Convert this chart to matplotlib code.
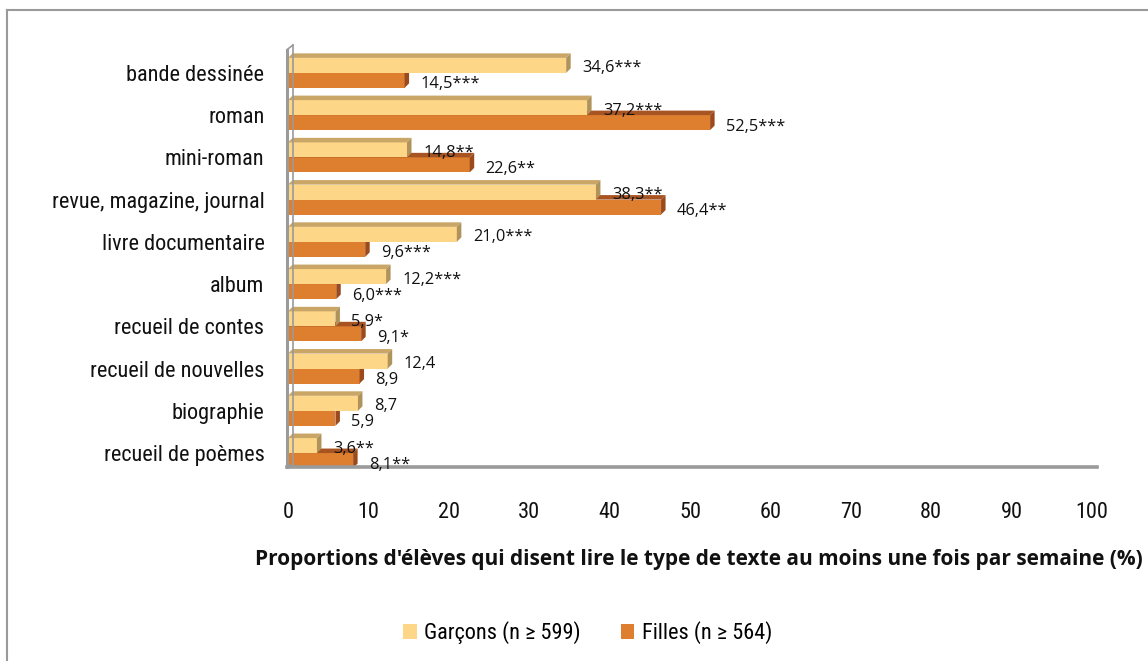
import matplotlib
matplotlib.use("Agg")
import matplotlib.pyplot as plt
from matplotlib import font_manager
from matplotlib.patches import Polygon, Patch
from matplotlib.lines import Line2D
import numpy as np

# ── Données ──────────────────────────────────────────────────────────────────

categories = ["bande dessinée", "roman", "mini-roman", "revue, magazine, journal",
              "livre documentaire", "album", "recueil de contes",
              "recueil de nouvelles", "biographie", "recueil de poèmes"]
garcons = [34.6, 37.2, 14.8, 38.3, 21.0, 12.2, 5.9, 12.4, 8.7, 3.6]
filles = [14.5, 52.5, 22.6, 46.4, 9.6, 6.0, 9.1, 8.9, 5.9, 8.1]
sig_garcons = ["***", "***", "**", "**", "***", "***", "*", "", "", "**"]
sig_filles = ["***", "***", "**", "**", "***", "***", "*", "", "", "**"]
xticks = list(range(0, 101, 10))

# ── Style ────────────────────────────────────────────────────────────────────

# police étroite si disponible, sinon Liberation Sans en plus petit
_names = {f.name for f in font_manager.fontManager.ttflist}
_narrow = [n for n in ("Liberation Sans Narrow", "Arial Narrow", "Roboto Condensed")
           if n in _names]
if _narrow:
    NARROW, NSIZE = [_narrow[0], "DejaVu Sans"], 16
else:
    NARROW, NSIZE = ["Liberation Sans", "DejaVu Sans"], 14.3
CALIB = ["Open Sans", "DejaVu Sans"]

YEL_FRONT, YEL_TOP, YEL_SIDE = "#FDD687", "#C9A566", "#B0935A"
ORA_FRONT, ORA_TOP, ORA_SIDE = "#DD7F2F", "#A85422", "#9A4A1C"
WALL = "#9a9a9a"

BAR_H = 0.355         # épaisseur d'une barre (unités y)
DX, DY = 0.56, 0.107  # profondeur du relief


def bar3d(ax, y0, w, front, top, side):
    y1 = y0 + BAR_H
    ax.add_patch(Polygon([(0, y0), (w, y0), (w, y1), (0, y1)],
                         closed=True, fc=front, ec="none", zorder=2))
    ax.add_patch(Polygon([(0, y1), (w, y1), (w + DX, y1 + DY), (DX, y1 + DY)],
                         closed=True, fc=top, ec="none", zorder=2))
    ax.add_patch(Polygon([(w, y0), (w + DX, y0 + DY), (w + DX, y1 + DY), (w, y1)],
                         closed=True, fc=side, ec="none", zorder=2))


def fmt(v, sig):
    return f"{v:.1f}".replace(".", ",") + sig


fig = plt.figure(figsize=(11.48, 6.61), dpi=100)
ax = fig.add_axes([288 / 1148, 1 - 467 / 661, 804 / 1148, 422 / 661])

n = len(categories)
ypos = np.arange(n)[::-1]

# les filles d'abord, les garçons par-dessus
for y, f in zip(ypos, filles):
    bar3d(ax, y - BAR_H, f, ORA_FRONT, ORA_TOP, ORA_SIDE)
for y, g, f, sg, sf in zip(ypos, garcons, filles, sig_garcons, sig_filles):
    bar3d(ax, y, g, YEL_FRONT, YEL_TOP, YEL_SIDE)
    ax.annotate(fmt(g, sg), (g, y + BAR_H / 2), xytext=(16, -3),
                textcoords="offset pixels", ha="left", va="center",
                fontsize=11.8, family=CALIB, color="#111", zorder=5)
    ax.annotate(fmt(f, sf), (f, y - BAR_H / 2), xytext=(16, -4),
                textcoords="offset pixels", ha="left", va="center",
                fontsize=11.8, family=CALIB, color="#111", zorder=5)

ax.set_xlim(0, 100)
ax.set_ylim(-0.33, 9.66)
ax.set_xticks(xticks)
ax.set_xticklabels([str(t) for t in xticks], family=NARROW, fontsize=NSIZE)
ax.set_yticks(ypos)
ax.set_yticklabels(categories, family=NARROW, fontsize=NSIZE)
ax.tick_params(axis="both", length=0, colors="#111")
ax.tick_params(axis="x", pad=25)
ax.tick_params(axis="y", pad=17)
for s in ax.spines.values():
    s.set_visible(False)

# paroi gauche et plancher
ax.plot([-0.12, -0.12], [-0.33, 9.55], color=WALL, lw=2.2, clip_on=False, zorder=3)
ax.plot([0.62, 0.62], [-0.26, 9.66], color=WALL, lw=1.2, clip_on=False, zorder=3)
ax.plot([-0.12, 0.62], [9.55, 9.66], color=WALL, lw=1.2, clip_on=False, zorder=3)
ax.plot([-0.12, 0.62], [-0.33, -0.26], color=WALL, lw=1.2, clip_on=False, zorder=3)
ax.plot([-0.12, 100.6], [-0.33, -0.33], color=WALL, lw=2.6, clip_on=False, zorder=3)

fig.text(699 / 1148, 1 - 560 / 661,
         "Proportions d'élèves qui disent lire le type de texte au moins une fois par semaine (%)",
         ha="center", va="center", fontsize=15, fontweight="bold", family=CALIB,
         color="#111")

handles = [Patch(fc=YEL_FRONT, ec="none"), Patch(fc=ORA_FRONT, ec="none")]
fig.legend(handles, ["Garçons (n ≥ 599)", "Filles (n ≥ 564)"],
           loc="center", bbox_to_anchor=(588 / 1148, 1 - 633 / 661), ncol=2,
           frameon=False, prop={"family": NARROW, "size": NSIZE},
           handlelength=0.6, handleheight=0.6, handletextpad=0.35,
           columnspacing=1.8)

# cadre du graphique
fig.add_artist(Line2D([7 / 1148, 1.0], [1 - 10 / 661] * 2, color=WALL, lw=1.5))
fig.add_artist(Line2D([7 / 1148] * 2, [0.0, 1 - 10 / 661], color=WALL, lw=1.5))

fig.savefig("out.png", dpi=100, facecolor="white")
